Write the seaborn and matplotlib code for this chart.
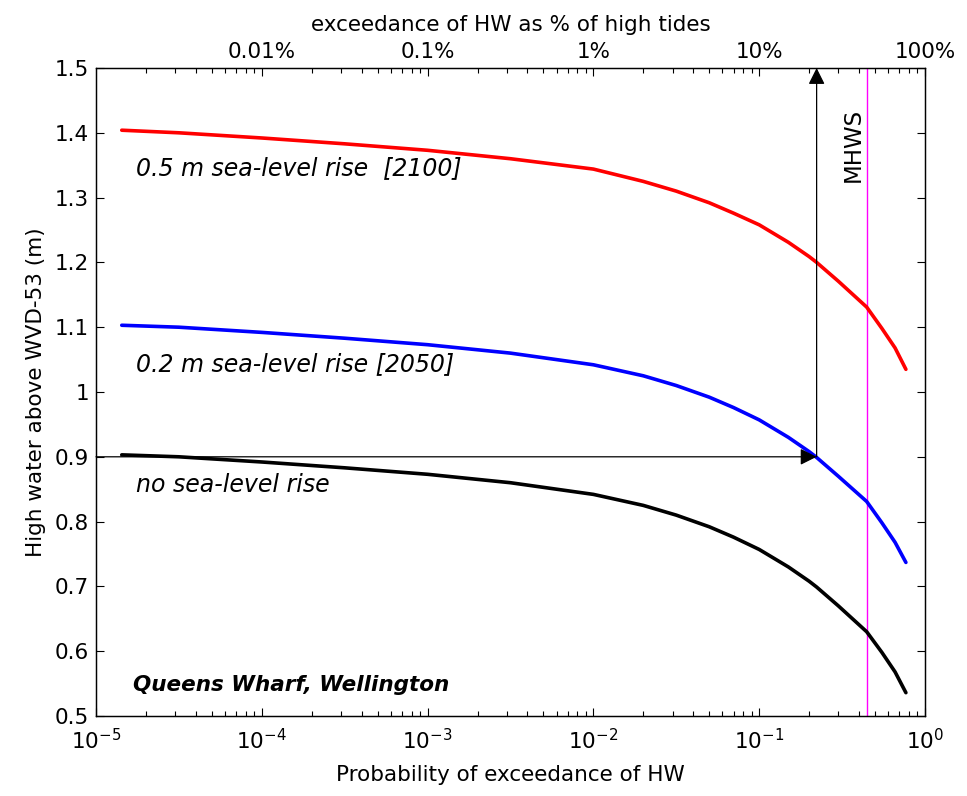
import numpy as np
import pandas as pd
import matplotlib
matplotlib.use("Agg")
import matplotlib.pyplot as plt
from matplotlib.ticker import FixedLocator, LogLocator, NullFormatter, FuncFormatter
import seaborn as sns

# ---- data ----
prob = [1.43e-5, 3.16e-5, 1e-4, 3.16e-4, 1e-3, 3.16e-3, 1e-2, 2e-2, 3.16e-2,
        5e-2, 7e-2, 0.1, 0.15, 0.2, 0.222, 0.3, 0.445, 0.55, 0.66, 0.767]
hw_none = [0.903, 0.900, 0.892, 0.883, 0.873, 0.860, 0.842, 0.825, 0.810,
           0.792, 0.776, 0.757, 0.730, 0.708, 0.699, 0.670, 0.630, 0.598, 0.568, 0.536]
hw_02 = [1.103, 1.100, 1.092, 1.083, 1.073, 1.060, 1.042, 1.025, 1.010,
         0.992, 0.976, 0.957, 0.930, 0.908, 0.899, 0.870, 0.831, 0.798, 0.768, 0.737]
hw_05 = [1.404, 1.400, 1.392, 1.383, 1.373, 1.360, 1.344, 1.325, 1.310,
         1.292, 1.276, 1.258, 1.231, 1.209, 1.200, 1.171, 1.131, 1.098, 1.068, 1.035]
series_names = ["none", "0.2", "0.5"]
series_colors = ["#000000", "#0000FF", "#FF0000"]
series_labels = ["no sea-level rise", "0.2 m sea-level rise [2050]",
                 "0.5 m sea-level rise  [2100]"]
label_y = [0.846, 1.032, 1.335]
mhws_prob = 0.445
design_prob = 0.222
design_level = 0.9
xticks_bottom = [1e-5, 1e-4, 1e-3, 1e-2, 1e-1, 1]
xticklabels_bottom = [r"$10^{-5}$", r"$10^{-4}$", r"$10^{-3}$", r"$10^{-2}$",
                      r"$10^{-1}$", r"$10^{0}$"]
xticks_top = [1e-4, 1e-3, 1e-2, 1e-1, 1]
xticklabels_top = ["0.01%", "0.1%", "1%", "10%", "100%"]
yticks = [0.5, 0.6, 0.7, 0.8, 0.9, 1.0, 1.1, 1.2, 1.3, 1.4, 1.5]

df = pd.DataFrame({
    "prob": prob * 3,
    "hw": hw_none + hw_02 + hw_05,
    "series": sum([[n] * len(prob) for n in series_names], []),
})

sns.set_theme(style="ticks", rc={
    "xtick.direction": "in", "ytick.direction": "in",
    "xtick.major.size": 6, "ytick.major.size": 6,
    "xtick.minor.size": 3.5, "ytick.minor.size": 3.5,
    "xtick.major.width": 0.8, "ytick.major.width": 0.8,
    "xtick.minor.width": 0.8,
    "axes.linewidth": 0.9,
    "axes.edgecolor": "black",
    "xtick.color": "black", "ytick.color": "black",
    "text.color": "black", "axes.labelcolor": "black",
})
plt.rcParams["font.family"] = ["DejaVu Sans"]

fig = plt.figure(figsize=(9.67, 7.96), dpi=100)
ax = fig.add_axes([96 / 967, 1 - 716 / 796, 829 / 967, 648 / 796])

sns.lineplot(data=df, x="prob", y="hw", hue="series", hue_order=series_names,
             palette=series_colors, estimator=None, sort=False, legend=False,
             linewidth=2.6, ax=ax)

ax.set_xscale("log")
ax.set_xlim(1e-5, 1)
ax.set_ylim(0.5, 1.5)

ax.xaxis.set_major_locator(FixedLocator(xticks_bottom))
ax.set_xticklabels(xticklabels_bottom)
ax.xaxis.set_minor_locator(LogLocator(base=10, subs=np.arange(2, 10), numticks=20))
ax.xaxis.set_minor_formatter(NullFormatter())
ax.set_yticks(yticks)
ax.yaxis.set_major_formatter(FuncFormatter(lambda v, p: f"{v:g}"))
ax.tick_params(axis="both", which="both", right=True, labelsize=15.5)
ax.tick_params(axis="x", which="major", pad=9)
ax.tick_params(axis="y", which="major", pad=5)

ax.set_xlabel("Probability of exceedance of HW", fontsize=15.5, labelpad=8)
ax.set_ylabel("High water above WVD-53 (m)", fontsize=15.5, labelpad=6)

# top axis
axt = ax.twiny()
axt.set_xscale("log")
axt.set_xlim(ax.get_xlim())
axt.xaxis.set_major_locator(FixedLocator(xticks_top))
axt.set_xticklabels(xticklabels_top)
axt.xaxis.set_minor_locator(LogLocator(base=10, subs=np.arange(2, 10), numticks=20))
axt.xaxis.set_minor_formatter(NullFormatter())
axt.tick_params(axis="x", which="both", direction="in", labelsize=15.5, pad=4)
axt.set_xlabel("exceedance of HW as % of high tides", fontsize=15.5, labelpad=8)

# MHWS line
ax.axvline(mhws_prob, color="#FF00FF", linewidth=1.0, zorder=1)
ax.text(0.368, 1.438, "MHWS", rotation=90, fontsize=16.5, ha="center", va="top")

# arrows
arrow_kw = dict(arrowstyle="-|>,head_length=0.5,head_width=0.25",
                mutation_scale=20, color="black", lw=0.9, shrinkA=0, shrinkB=0)
ax.annotate("", xy=(design_prob, design_level), xytext=(1e-5, design_level),
            arrowprops=arrow_kw, zorder=3)
ax.annotate("", xy=(design_prob, 1.5), xytext=(design_prob, design_level),
            arrowprops=arrow_kw, zorder=3)

# series labels
for lab, yy in zip(series_labels, label_y):
    ax.text(1.74e-5, yy, lab, fontsize=17, style="italic", ha="left", va="baseline")

ax.text(1.67e-5, 0.539, "Queens Wharf, Wellington", fontsize=15.5,
        style="italic", weight="bold", ha="left", va="baseline")

fig.savefig("out.png", dpi=100)
